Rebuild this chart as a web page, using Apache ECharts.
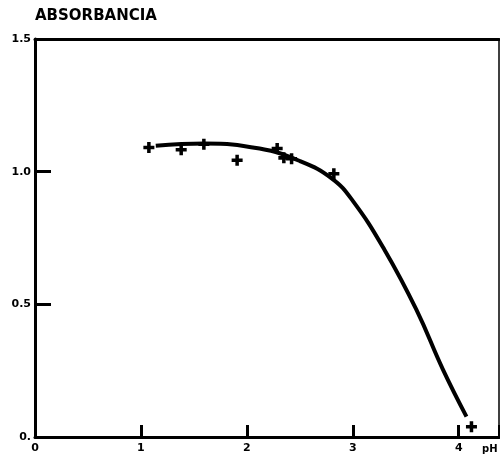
<!DOCTYPE html>
<html>
<head>
<meta charset="utf-8">
<script src="https://cdn.jsdelivr.net/npm/echarts@6/dist/echarts.min.js"></script>
<style>html,body{margin:0;padding:0;background:#fff}#c{width:500px;height:457px}</style>
</head>
<body>
<div id="c"></div>
<script>
// measured points (pH, absorbance)
const pointPH  = [1.075, 1.38, 1.594, 1.908, 2.286, 2.349, 2.422, 2.821, 4.12];
const pointAbs = [1.091, 1.083, 1.103, 1.043, 1.087, 1.052, 1.049, 0.992, 0.039];
// fitted curve
const curvePH  = [1.14, 1.6, 2.12, 2.5, 2.8, 3.0, 3.3, 3.6, 3.85, 4.073];
const curveAbs = [1.098, 1.106, 1.087, 1.040, 0.975, 0.89, 0.705, 0.48, 0.255, 0.077];
const xTicks = ['0', '1', '2', '3', '4'];
const yTicks = ['0.', '0.5', '1.0', '1.5'];

const plus = 'path://M-1.6,-5 L1.6,-5 L1.6,-1.6 L5,-1.6 L5,1.6 L1.6,1.6 L1.6,5 L-1.6,5 L-1.6,1.6 L-5,1.6 L-5,-1.6 L-1.6,-1.6 Z';
const lblFont = {color:'#000', fontFamily:'DejaVu Sans', fontWeight:'bold', fontSize:11};

function xLab(v){ return Math.abs(v - Math.round(v)) < 1e-6 ? (xTicks[Math.round(v)] ?? '') : ''; }
function yLab(v){ const k = v*2; return Math.abs(k - Math.round(k)) < 1e-6 ? (yTicks[Math.round(k)] ?? '') : ''; }

const chart = echarts.init(document.getElementById('c'), null, {renderer:'canvas'});
chart.setOption({
  animation:false,
  backgroundColor:'#fff',
  grid:{left:35, right:1, top:39, bottom:20, containLabel:false, outerBoundsMode:'none'},
  xAxis:[{
    type:'value', min:0, max:4.38, interval:1, position:'bottom',
    name:'pH', nameLocation:'end', nameGap:-17,
    nameTextStyle:{color:'#000', fontFamily:'DejaVu Sans', fontWeight:'bold', fontSize:10, verticalAlign:'top', padding:[7,0,0,0]},
    axisLine:{onZero:false, lineStyle:{color:'#000', width:3}},
    axisTick:{inside:true, length:12, lineStyle:{color:'#000', width:3}},
    axisLabel:Object.assign({margin:6, formatter:xLab, showMaxLabel:true}, lblFont),
    splitLine:{show:false}
  },{
    type:'value', min:0, max:4.38, position:'top',
    axisLine:{show:true, onZero:false, lineStyle:{color:'#000', width:3}},
    axisTick:{show:false}, axisLabel:{show:false}, splitLine:{show:false}
  }],
  yAxis:[{
    type:'value', min:0, max:1.5, interval:0.5, position:'left',
    name:'ABSORBANCIA', nameLocation:'end', nameGap:15,
    nameTextStyle:{color:'#000', fontFamily:'DejaVu Sans', fontWeight:'bold', fontSize:15, align:'left'},
    axisLine:{onZero:false, lineStyle:{color:'#000', width:3}},
    axisTick:{inside:true, length:16, lineStyle:{color:'#000', width:3}},
    axisLabel:Object.assign({margin:4, formatter:yLab}, lblFont),
    splitLine:{show:false}
  },{
    type:'value', min:0, max:1.5, position:'right',
    axisLine:{show:true, onZero:false, lineStyle:{color:'#000', width:1.5}},
    axisTick:{show:false}, axisLabel:{show:false}, splitLine:{show:false}
  }],
  series:[{
    type:'line', smooth:0.45, showSymbol:false, symbol:'none',
    data:curvePH.map((x,i)=>[x, curveAbs[i]]),
    lineStyle:{color:'#000', width:4}
  },{
    type:'scatter', symbol:plus, symbolSize:11,
    data:pointPH.map((x,i)=>[x, pointAbs[i]]),
    itemStyle:{color:'#000', opacity:1}
  }]
});
</script>
</body>
</html>
